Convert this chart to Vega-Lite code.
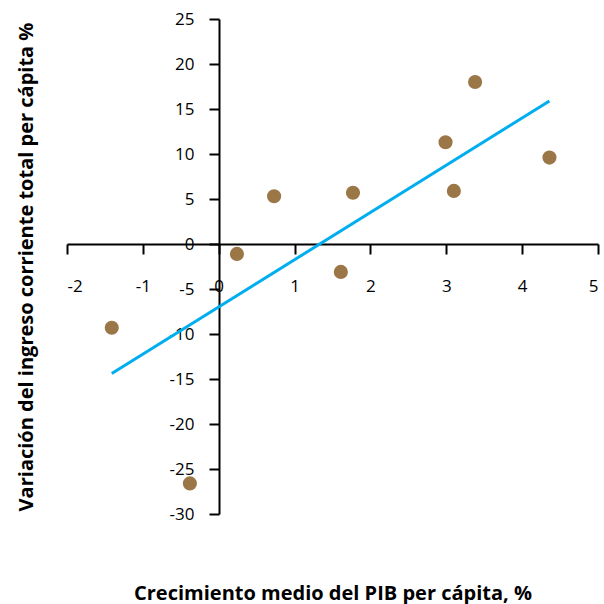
{
  "$schema": "https://vega.github.io/schema/vega-lite/v6.json",
  "width": 531,
  "height": 495,
  "autosize": "none",
  "padding": {"left": 67, "top": 19, "right": 6, "bottom": 90},
  "background": "white",
  "config": {
    "view": {"stroke": null},
    "axis": {
      "labelFont": "Open Sans",
      "titleFont": "Open Sans",
      "labelFontSize": 17,
      "titleFontSize": 20,
      "titleFontWeight": "bold",
      "labelColor": "black",
      "titleColor": "black",
      "domainColor": "black",
      "domainWidth": 2,
      "tickColor": "black",
      "tickWidth": 2,
      "tickSize": 10,
      "grid": false,
      "labelExpr": "'' + datum.value"
    }
  },
  "datasets": {
    "pts": [
      {"x": -1.41, "y": -9.3},
      {"x": -0.38, "y": -26.6},
      {"x": 0.24, "y": -1.1},
      {"x": 0.73, "y": 5.3},
      {"x": 1.61, "y": -3.1},
      {"x": 1.77, "y": 5.7},
      {"x": 2.99, "y": 11.3},
      {"x": 3.10, "y": 5.9},
      {"x": 3.38, "y": 18.0},
      {"x": 4.36, "y": 9.6}
    ],
    "fit": [
      {"x": -1.41, "y": -14.4},
      {"x": 4.36, "y": 15.9}
    ]
  },
  "layer": [
    {
      "data": {"name": "fit"},
      "mark": {"type": "line", "color": "#00aeef", "strokeWidth": 3},
      "encoding": {
        "x": {
          "field": "x", "type": "quantitative",
          "scale": {"domain": [-2, 5], "nice": false, "zero": false},
          "axis": {
            "title": "Crecimiento medio del PIB per cápita, %",
            "values": [-2, -1, 0, 1, 2, 3, 4, 5],
            "offset": -270,
            "labelPadding": 24,
            "titleY": 339
          }
        },
        "y": {
          "field": "y", "type": "quantitative",
          "scale": {"domain": [-30, 25], "nice": false, "zero": false},
          "axis": {
            "title": "Variación del ingreso corriente total per cápita %",
            "values": [-30, -25, -20, -15, -10, -5, 0, 5, 10, 15, 20, 25],
            "offset": -152,
            "labelPadding": 15,
            "titleX": -183
          }
        }
      }
    },
    {
      "data": {"name": "pts"},
      "mark": {"type": "circle", "color": "#9b7747", "opacity": 1, "size": 200},
      "encoding": {
        "x": {"field": "x", "type": "quantitative"},
        "y": {"field": "y", "type": "quantitative"}
      }
    }
  ]
}
